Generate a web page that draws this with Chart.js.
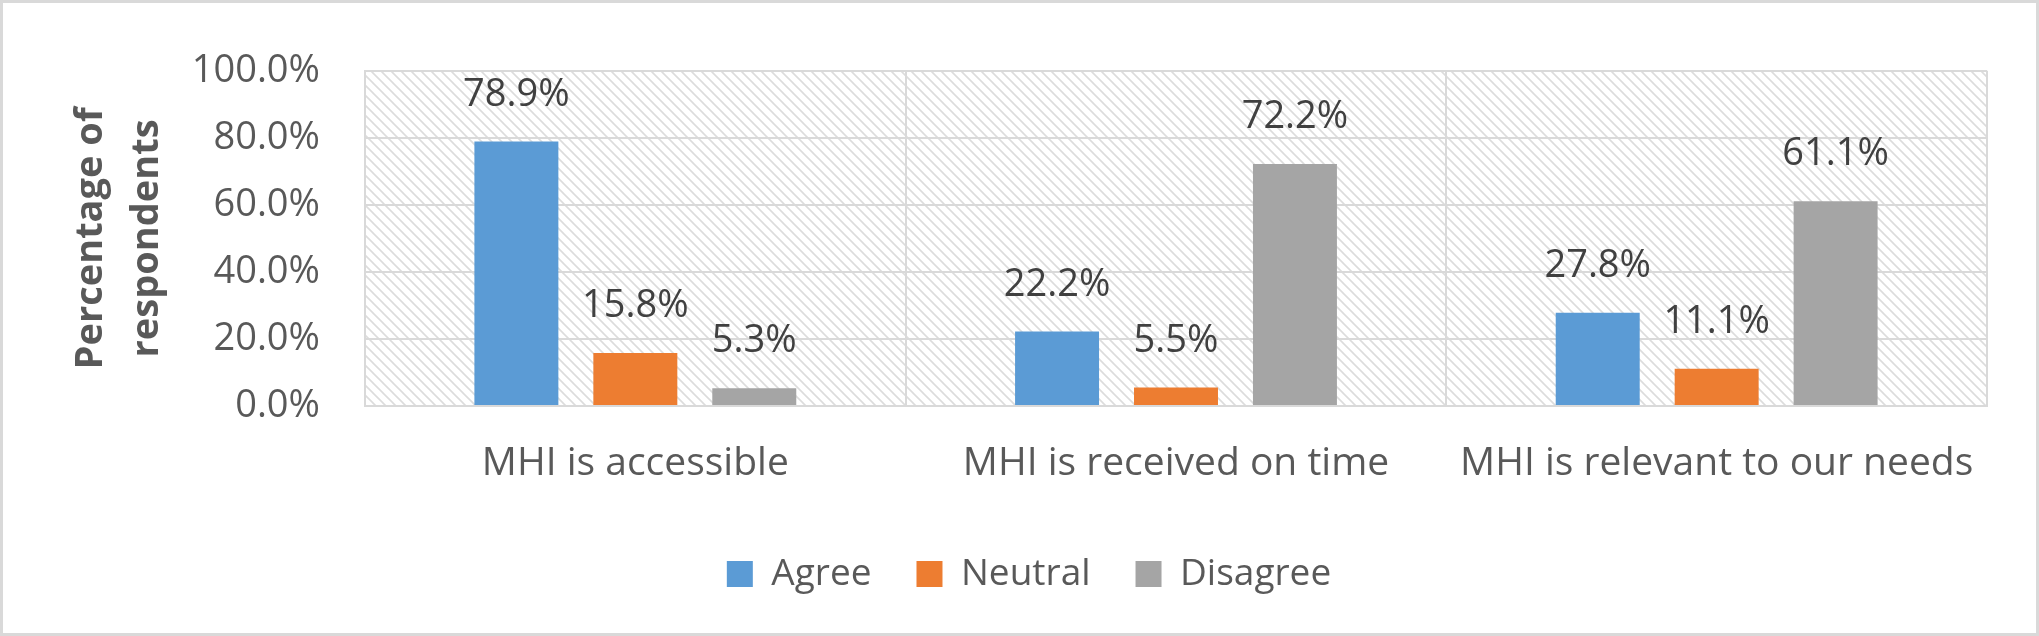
<!DOCTYPE html>
<html>
<head>
<meta charset="utf-8">
<script src="https://cdn.jsdelivr.net/npm/chart.js@4.4.0/dist/chart.umd.min.js"></script>
<style>
body{margin:0;background:#fff}
#wrap{position:absolute;left:0;top:0;width:2039px;height:636px;box-sizing:border-box;border:3px solid #d9d9d9;background:#fff}
</style>
</head>
<body>
<div id="wrap"><canvas id="reports"></canvas></div>
<script>
// values
const categories = ['MHI is accessible', 'MHI is received on time', 'MHI is relevant to our needs'];
const agree = [78.9, 22.2, 27.8];
const neutral = [15.8, 5.5, 11.1];
const disagree = [5.3, 72.2, 61.1];
const yTicks = [0, 20, 40, 60, 80, 100];

const textGrey = '#595959';
const gridGrey = '#d9d9d9';

// diagonal hatch behind the plot area
const hatchPlugin = {
    id: 'hatch',
    beforeDraw(chart) {
        const a = chart.chartArea;
        const hc = document.createElement('canvas');
        hc.width = 10; hc.height = 10;
        const h = hc.getContext('2d');
        h.strokeStyle = '#dcdcdc';
        h.lineWidth = 1.6;
        h.beginPath();
        h.moveTo(-2, -2); h.lineTo(12, 12);
        h.moveTo(-2, 8); h.lineTo(2, 12);
        h.moveTo(8, -2); h.lineTo(12, 2);
        h.stroke();
        const ctx = chart.ctx;
        ctx.save();
        ctx.fillStyle = ctx.createPattern(hc, 'repeat');
        ctx.fillRect(a.left, a.top, a.right - a.left, a.bottom - a.top);
        ctx.restore();
    }
};

// value labels above the bars
const valueLabels = {
    id: 'valueLabels',
    afterDatasetsDraw(chart) {
        const ctx = chart.ctx;
        ctx.save();
        ctx.font = '38px "Open Sans"';
        ctx.fillStyle = '#404040';
        ctx.textAlign = 'center';
        ctx.textBaseline = 'alphabetic';
        chart.data.datasets.forEach(function(ds, i) {
            chart.getDatasetMeta(i).data.forEach(function(bar, j) {
                ctx.fillText(ds.data[j].toFixed(1) + '%', bar.x, bar.y - 36);
            });
        });
        ctx.restore();
    }
};

function creareChart() {
    new Chart(document.getElementById('reports'), {
        type: 'bar',
        data: {
            labels: categories,
            datasets: [
                { label: 'Agree', data: agree, backgroundColor: '#5B9BD5', borderWidth: 0 },
                { label: 'Neutral', data: neutral, backgroundColor: '#ED7D31', borderWidth: 0 },
                { label: 'Disagree', data: disagree, backgroundColor: '#A5A5A5', borderWidth: 0 }
            ]
        },
        options: {
            responsive: true,
            maintainAspectRatio: false,
            animation: false,
            devicePixelRatio: 1,
            categoryPercentage: 0.66,
            barPercentage: 0.706,
            layout: { padding: { left: 68, right: 49, top: 54, bottom: 30.5 } },
            plugins: {
                tooltip: { enabled: false },
                legend: {
                    position: 'bottom',
                    labels: {
                        boxWidth: 26,
                        boxHeight: 26,
                        padding: 45,
                        color: textGrey,
                        font: { family: 'Open Sans', size: 37 }
                    }
                }
            },
            scales: {
                x: {
                    grid: { color: gridGrey, lineWidth: 2, drawTicks: false },
                    border: { color: gridGrey, width: 2 },
                    ticks: {
                        color: textGrey,
                        padding: 34,
                        font: { family: 'Open Sans', size: 39 }
                    },
                    afterFit: function(s) { s.height = 104.5; }
                },
                y: {
                    min: 0,
                    max: 100,
                    afterBuildTicks: function(s) { s.ticks = yTicks.map(v => ({ value: v })); },
                    grid: { color: gridGrey, lineWidth: 2, drawTicks: false },
                    border: { color: gridGrey, width: 2 },
                    ticks: {
                        color: textGrey,
                        padding: 45,
                        font: { family: 'Open Sans', size: 38 },
                        callback: v => v.toFixed(1) + '%'
                    },
                    title: {
                        display: true,
                        text: ['Percentage of', 'respondents'],
                        color: textGrey,
                        font: { family: 'Open Sans', size: 38, weight: 'bold', lineHeight: 1.47 },
                        padding: { top: -8, bottom: 0 }
                    },
                    afterFit: function(s) { s.width = 294; }
                }
            }
        },
        plugins: [hatchPlugin, valueLabels]
    });
}

window.addEventListener('load', function() {
    creareChart();
});
</script>
</body>
</html>
